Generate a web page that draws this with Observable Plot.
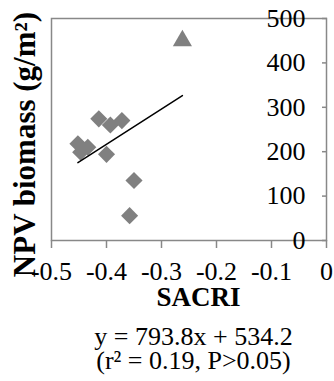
<!DOCTYPE html>
<html><head><meta charset="utf-8">
<script src="https://cdn.jsdelivr.net/npm/d3@7"></script>
<script src="https://cdn.jsdelivr.net/npm/@observablehq/plot@0.6"></script>
<style>html,body{margin:0;padding:0;background:#fff}</style>
</head><body><div id="chart"></div>
<script>
const sacri  = [-0.452, -0.434, -0.447, -0.414, -0.393, -0.372, -0.400, -0.350, -0.358, -0.262];
const npv    = [218, 210, 199, 274, 260, 270, 194, 135, 56, 450];
const marker = ["diamond","diamond","diamond","diamond","diamond","diamond","diamond","diamond","diamond","triangle"];
const xTicks = [-0.5, -0.4, -0.3, -0.2, -0.1, 0];
const yTicks = [0, 100, 200, 300, 400, 500];
const slope = 793.8, intercept = 534.2, r2 = 0.19;
const xLabel = "SACRI";
const yLabel = "NPV biomass (g/m²)";
const eqLines = [`y = ${slope}x + ${intercept}`, `(r² = ${r2}, P>0.05)`];

const pts = sacri.map((x, i) => ({x, y: npv[i], m: marker[i]}));
const [xa, xb] = d3.extent(sacri);
const fit = [xa, xb].map(x => ({x, y: slope * x + intercept}));
const font = "'Liberation Serif','Times New Roman',serif";
const grey = "#888888";
const markerFill = "#808080";

const chart = Plot.plot({
  width: 334, height: 381,
  marginLeft: 51, marginRight: 8, marginTop: 18, marginBottom: 141,
  style: {fontFamily: font, background: "#fff", overflow: "visible", color: "black"},
  x: {domain: [-0.5, 0]},
  y: {domain: [0, 500]},
  marks: [
    Plot.frame({stroke: grey, strokeWidth: 1.5}),
    Plot.axisX({ticks: xTicks, tickSize: 8, tickPadding: 13.5, stroke: grey, strokeWidth: 1.5, fill: "black",
      fontSize: 26, fontFamily: font, fontVariant: "normal", tickFormat: d => d === 0 ? "0" : d.toFixed(1), label: null}),
    Plot.axisY({anchor: "right", ticks: yTicks, tickSize: -5, tickPadding: -16, textAnchor: "end",
      stroke: grey, strokeWidth: 1.5, fill: "black", fontSize: 26, fontFamily: font, fontVariant: "normal",
      tickFormat: d => String(d), label: null}),
    Plot.dot(pts.filter(d => d.m === "diamond"), {x: "x", y: "y", symbol: "diamond2", r: 7.7, fill: markerFill}),
    Plot.dot(pts.filter(d => d.m === "triangle"), {x: "x", y: "y", symbol: "triangle", r: 7.1, fill: markerFill}),
    Plot.line(fit, {x: "x", y: "y", stroke: "black", strokeWidth: 1.5}),
    Plot.text([yLabel], {frameAnchor: "left", textAnchor: "middle", rotate: -90, dx: -17, dy: 15, fontSize: 31, fontWeight: "bold",
      fontFamily: font, lineAnchor: "bottom", fill: "black"}),
    Plot.text([xLabel], {frameAnchor: "bottom", textAnchor: "middle", dx: 9.5, dy: 65, fontSize: 27, fontWeight: "bold",
      fontFamily: font, lineAnchor: "bottom", fill: "black"}),
    Plot.text([eqLines.join("\n")], {frameAnchor: "bottom", textAnchor: "middle", dx: 4.5, dy: 128, fontSize: 26,
      fontFamily: font, lineHeight: 24 / 26, lineAnchor: "bottom", fill: "black"})
  ]
});
d3.select(chart).selectAll("text").style("font-family", font);
document.getElementById("chart").append(chart);
</script>
</body></html>
